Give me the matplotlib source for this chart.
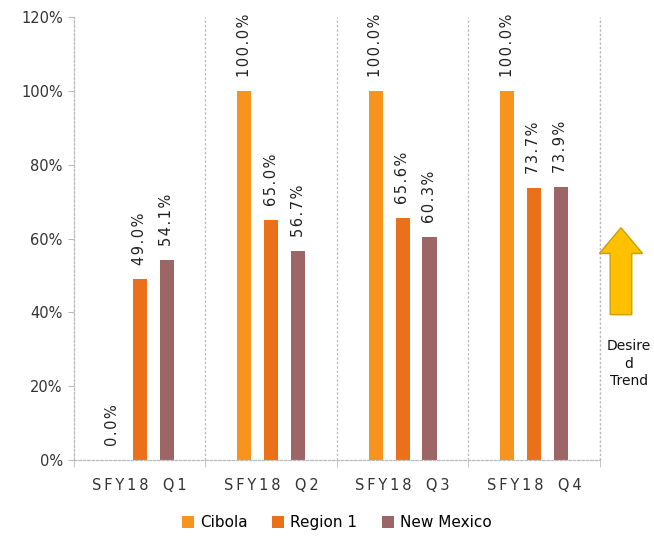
import numpy as np
import matplotlib
matplotlib.use("Agg")
import matplotlib.pyplot as plt
from matplotlib.patches import FancyArrow

categories = ["SFY18 Q1", "SFY18 Q2", "SFY18 Q3", "SFY18 Q4"]
series_names = ["Cibola", "Region 1", "New Mexico"]
cibola = [0.0, 100.0, 100.0, 100.0]
region1 = [49.0, 65.0, 65.6, 73.7]
new_mexico = [54.1, 56.7, 60.3, 73.9]
colors = ["#F7941D", "#EA7019", "#9C6666"]

plt.rcParams['font.family'] = ['DejaVu Sans']
fig = plt.figure(figsize=(6.54, 5.37), dpi=100)
ax = fig.add_axes([0.113, 0.1434, 0.804, 0.8246])

x = np.arange(len(categories))
w = 0.107
step = 0.205
for i, (vals, name, c) in enumerate(zip([cibola, region1, new_mexico], series_names, colors)):
    pos = x + (i - 1) * step
    ax.bar(pos, vals, width=w, color=c, label=name)
    for p, v in zip(pos, vals):
        txt = "\u200a".join(list(f"{v:.1f}%"))
        ax.text(p, v + 3.8, txt, rotation=90, ha='center', va='bottom',
                fontsize=10.5, color='#222222')

ax.set_xlim(-0.5, len(categories) - 0.5)
ax.set_ylim(0, 120)
ax.set_yticks(range(0, 121, 20))
ax.set_yticklabels([f"{t}%" for t in range(0, 121, 20)], fontsize=10.5, color='#333333')

# category labels with wide letter spacing
spaced = ["\u2009".join(list(c.replace(" ", "\u2009\u2009"))) for c in categories]
ax.set_xticks(x)
ax.set_xticklabels(spaced, fontsize=10.5, color='#333333')
ax.tick_params(axis='x', length=0, pad=13)
ax.set_xticks(np.arange(-0.5, len(categories), 1), minor=True)
ax.tick_params(axis='x', which='minor', length=5, color='#BBBBBB')
ax.tick_params(axis='y', length=4, color='#BBBBBB', pad=4)

for b in np.arange(0.5, len(categories), 1):
    ax.axvline(b, color='#BBBBBB', lw=0.9, ls=(0, (2, 1.5)))

for s in ['top', 'right']:
    ax.spines[s].set_visible(False)
for s in ['left', 'bottom']:
    ax.spines[s].set_color('#BBBBBB')
    ax.spines[s].set_linestyle((0, (2, 1.5)))
    ax.spines[s].set_linewidth(0.9)
ax.plot([1, 1], [0, 1], transform=ax.transAxes, color='#BBBBBB', lw=0.9,
        ls=(0, (2, 1.5)), clip_on=False)

ax.legend(loc='center', bbox_to_anchor=(0.5, -0.142), ncol=3, frameon=False,
          fontsize=11, handlelength=0.8, handleheight=0.8, handletextpad=0.4,
          columnspacing=1.6)

# desired trend arrow
arrow = FancyArrow(0.9495, 0.414, 0, 0.162, width=0.033, head_width=0.066,
                   head_length=0.048, length_includes_head=True,
                   transform=fig.transFigure, facecolor='#FFC000',
                   edgecolor='#C9A000', lw=1)
fig.patches.append(arrow)
fig.text(0.962, 0.368, "Desire\nd\nTrend", ha='center', va='top', fontsize=10,
         linespacing=1.3, color='#111111')

fig.savefig("out.png", dpi=100)
